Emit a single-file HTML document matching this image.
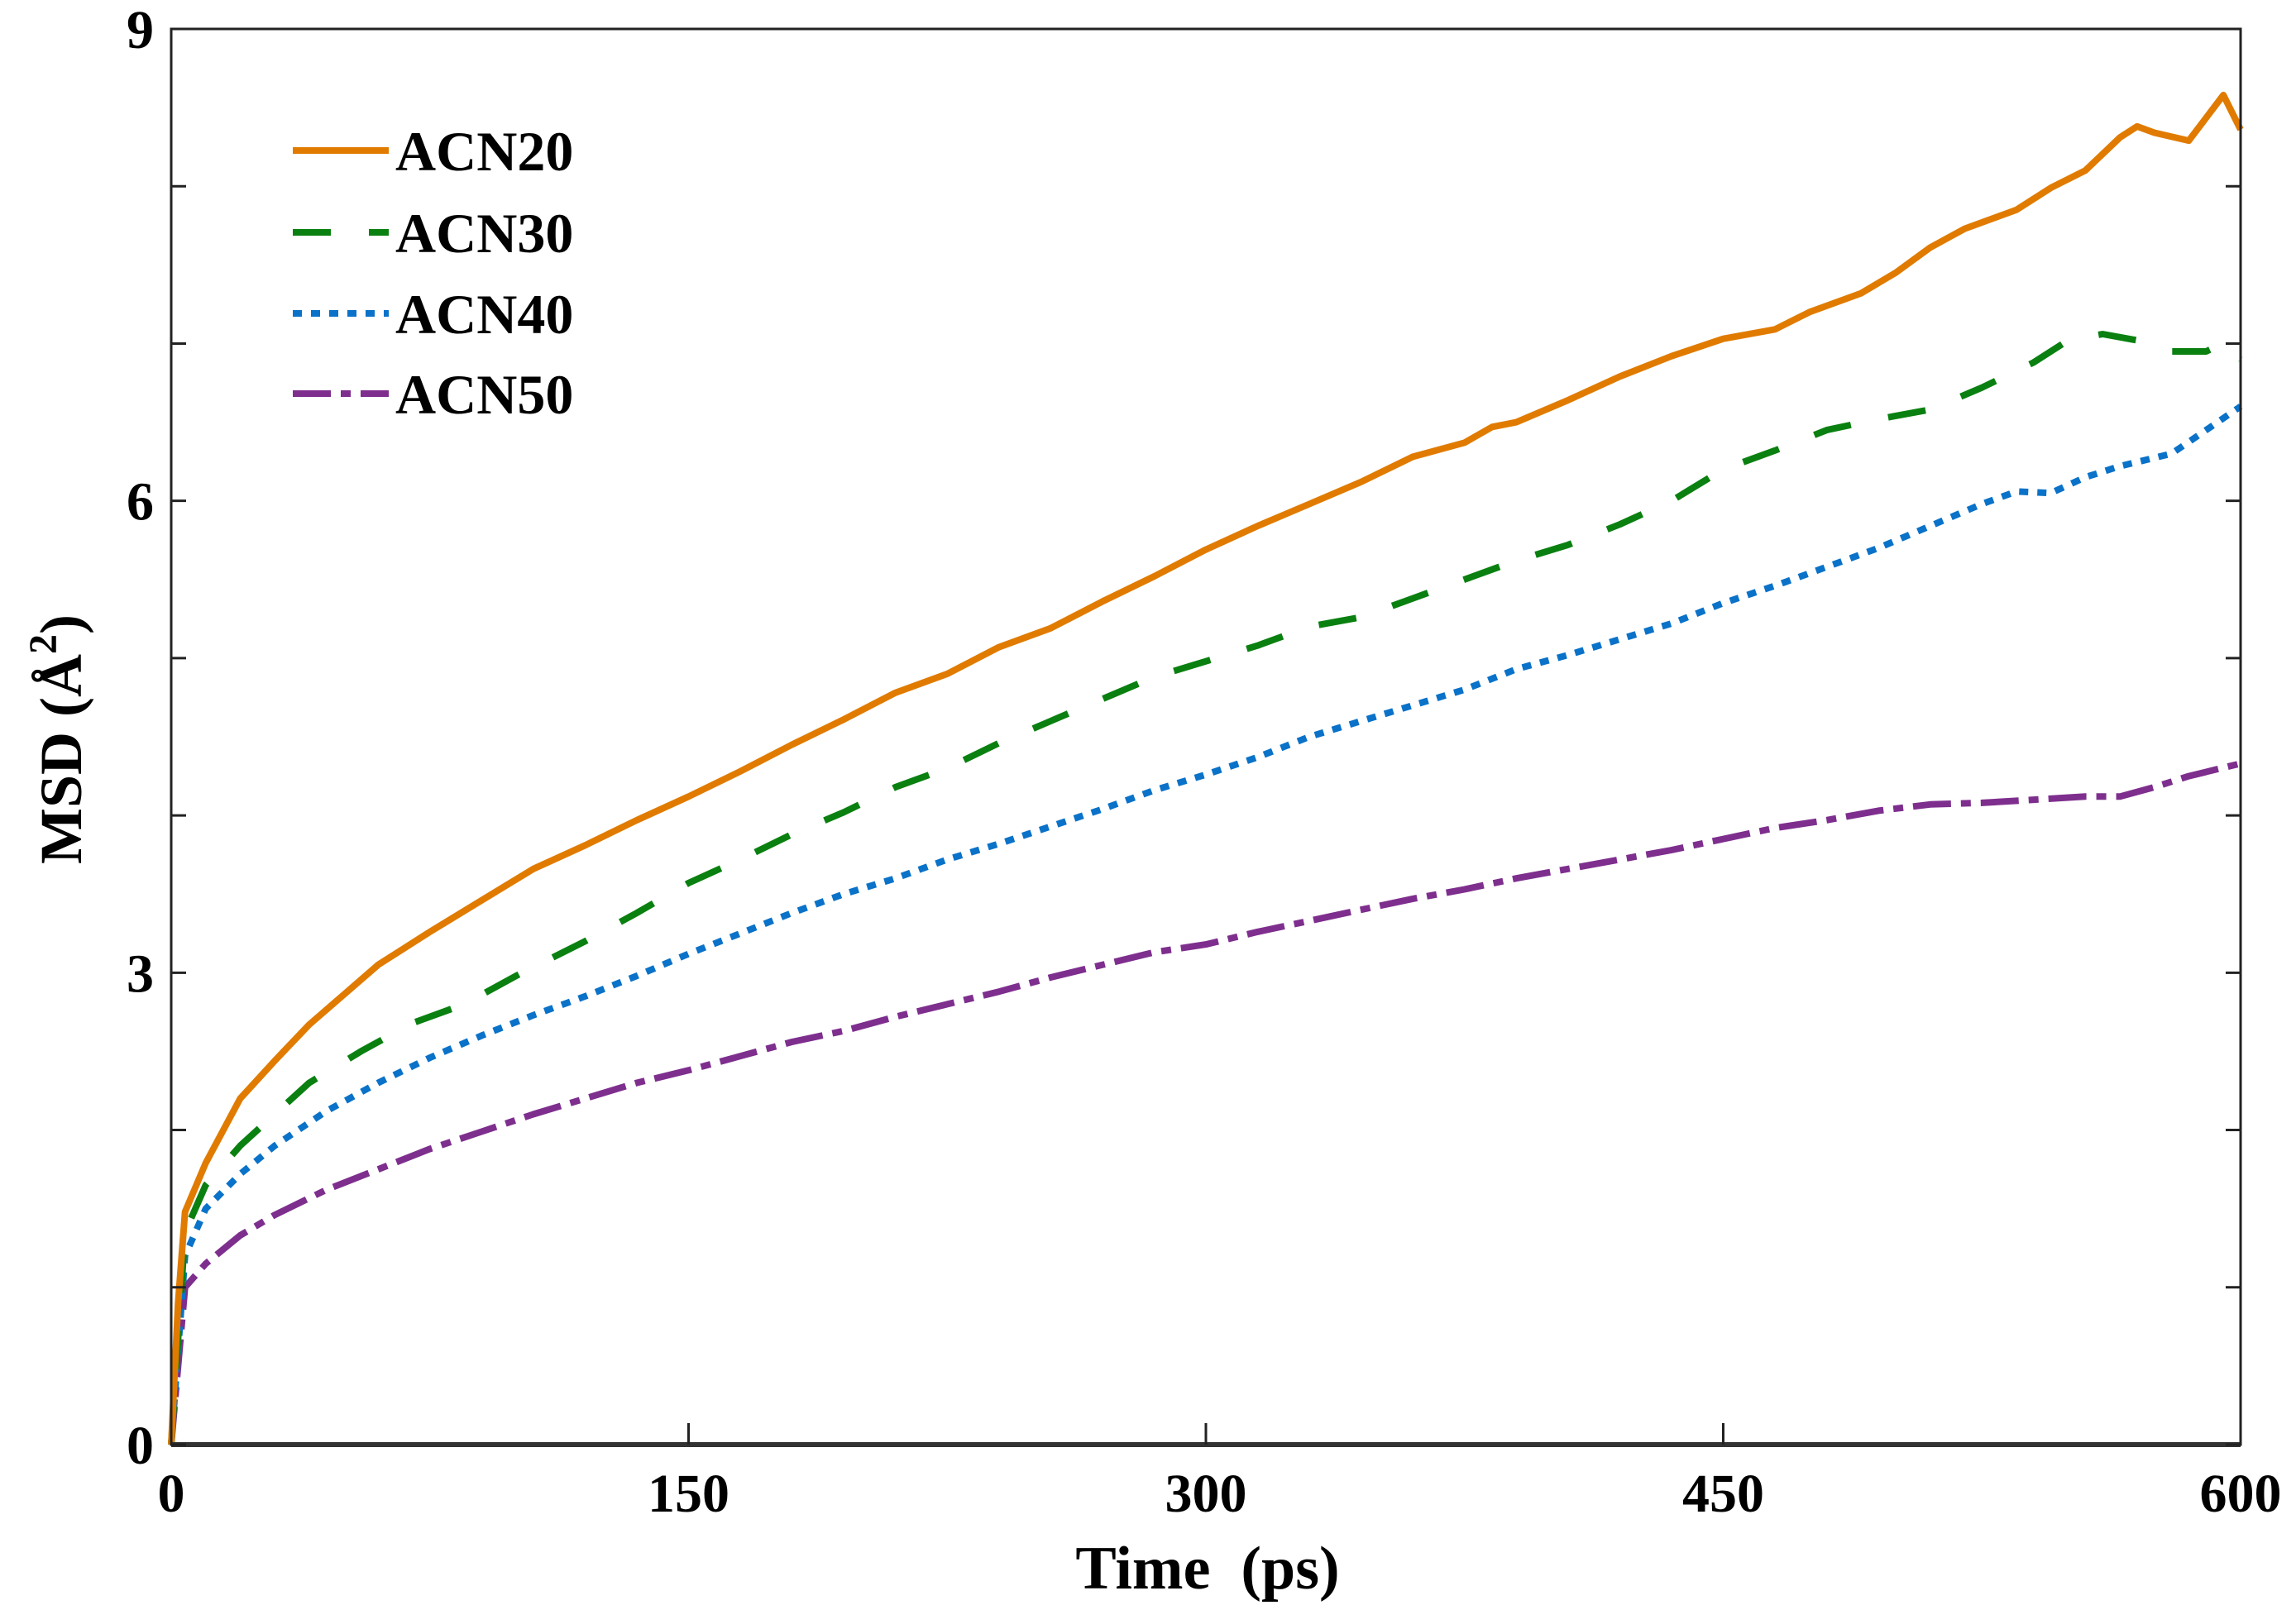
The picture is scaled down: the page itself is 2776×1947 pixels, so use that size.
<!DOCTYPE html>
<html><head><meta charset="utf-8"><style>
html,body{margin:0;padding:0;background:#fff}
svg{display:block}
text{font-family:"Liberation Serif",serif;font-weight:bold;fill:#000}
</style></head><body>
<svg id="chart" width="2776" height="1947" viewBox="0 0 2776 1947" xmlns="http://www.w3.org/2000/svg">
<g id="series"></g>
<g id="axes"></g>
<g id="legend"></g>
<text x="1460" y="1921" font-size="74" text-anchor="middle">Time&#160;&#160;(ps)</text>
<text x="0" y="0" font-size="72" text-anchor="middle" transform="translate(98,894) rotate(-90)">MSD (Å<tspan font-size="48" dy="-30">2</tspan><tspan dy="30">)</tspan></text>
</svg>
<script>
const xTicks = [0,150,300,450,600];
const yTicks = [0,3,6,9];
const yMinorTicks = [1,2,4,5,7,8];
const seriesNames = ["ACN20","ACN30","ACN40","ACN50"];
const t20 = [0,2,4,10,20,30,40,50,60,75,90,105,120,135,150,165,180,195,210,225,240,255,270,285,300,315,330,345,360,375,383,390,405,420,435,450,465,475,490,500,510,520,535,545,555,565,570,575,585,595,600];
const v20 = [0,0.9,1.48,1.79,2.2,2.44,2.67,2.86,3.05,3.26,3.46,3.66,3.81,3.97,4.12,4.28,4.45,4.61,4.78,4.9,5.07,5.19,5.36,5.52,5.69,5.84,5.98,6.12,6.28,6.37,6.47,6.5,6.64,6.79,6.92,7.03,7.09,7.2,7.32,7.45,7.61,7.73,7.85,7.99,8.1,8.31,8.38,8.34,8.29,8.58,8.36];
const t30 = [0,4,10,20,30,40,55,70,85,100,120,135,150,165,180,195,210,225,240,255,270,285,300,315,330,345,360,375,390,405,420,435,450,465,480,495,510,525,540,550,560,570,580,590,595,600];
const v30 = [0,1.35,1.65,1.9,2.1,2.3,2.5,2.68,2.8,2.98,3.2,3.38,3.57,3.72,3.88,4.02,4.18,4.3,4.46,4.6,4.74,4.88,4.98,5.08,5.2,5.26,5.38,5.5,5.62,5.72,5.85,6.0,6.2,6.32,6.45,6.52,6.58,6.72,6.88,7.02,7.06,7.02,6.95,6.95,7.0,6.9];
const t40 = [0,4,10,20,30,45,60,75,90,105,120,135,150,165,180,195,210,225,240,255,270,285,300,315,330,345,360,375,390,405,420,435,450,465,480,495,510,525,535,545,555,565,580,590,600];
const v40 = [0,1.2,1.5,1.72,1.9,2.12,2.3,2.46,2.6,2.73,2.85,2.98,3.12,3.25,3.38,3.5,3.6,3.72,3.82,3.93,4.04,4.16,4.26,4.37,4.5,4.6,4.7,4.8,4.93,5.02,5.12,5.22,5.35,5.46,5.58,5.7,5.84,5.98,6.06,6.05,6.15,6.22,6.3,6.45,6.6];
const t50 = [0,4,10,20,30,45,60,75,90,105,120,135,150,165,180,195,210,225,240,255,270,285,300,315,330,345,360,375,390,405,420,435,450,465,480,495,510,525,540,555,565,575,585,600];
const v50 = [0,1.0,1.15,1.33,1.46,1.62,1.75,1.88,1.99,2.1,2.2,2.3,2.38,2.47,2.56,2.63,2.72,2.8,2.88,2.97,3.05,3.13,3.18,3.26,3.33,3.4,3.47,3.53,3.6,3.66,3.72,3.78,3.85,3.92,3.97,4.03,4.07,4.08,4.1,4.12,4.12,4.18,4.25,4.33];

const L=207,R=2709,T=35,B=1747;
const xS=t=>L+(t-0)/(600-0)*(R-L);
const yS=v=>B-(v-0)/(9-0)*(B-T);
const NS="http://www.w3.org/2000/svg";
function mk(tag,attrs,parent){const e=document.createElementNS(NS,tag);for(const k in attrs)e.setAttribute(k,attrs[k]);parent.appendChild(e);return e;}
const styles=[
 {c:"#E07B00",d:""},
 {c:"#0A8010",d:"46 46"},
 {c:"#0A72C8",d:"11 11"},
 {c:"#7E2F8E",d:"46 12 12 12"}];
const ts=[t20,t30,t40,t50], vs=[v20,v30,v40,v50];
const sg=document.getElementById('series');
for(let s=3;s>=0;s--){
  const pts=ts[s].map((t,i)=>xS(t).toFixed(1)+","+yS(vs[s][i]).toFixed(1)).join(" ");
  const p=mk('polyline',{points:pts,fill:"none",stroke:styles[s].c,"stroke-width":8,"stroke-linejoin":"round"},sg);
  if(styles[s].d)p.setAttribute('stroke-dasharray',styles[s].d);
  
  
}
const ag=document.getElementById('axes');
const fr=mk('rect',{x:L,y:T,width:R-L,height:B-T,fill:"none",stroke:"#222","stroke-width":3},ag);


const bx=mk('line',{x1:L,y1:B,x2:R,y2:B,stroke:"#333","stroke-width":6},ag);


xTicks.forEach(t=>{
  const x=xS(t);
  const tk=mk('line',{x1:x,y1:B,x2:x,y2:B-26,stroke:"#222","stroke-width":3},ag);
  
  
  const lb=mk('text',{x:x,y:B+81,"font-size":66,"text-anchor":"middle"},ag);
  lb.textContent=t;
  
  
});
yTicks.concat(yMinorTicks).forEach(v=>{
  const y=yS(v);
  [[L,L+18],[R,R-18]].forEach(([a,b])=>{
    const tk=mk('line',{x1:a,y1:y,x2:b,y2:y,stroke:"#222","stroke-width":3},ag);
    
    
  });
});
yTicks.forEach(v=>{
  const lb=mk('text',{x:186,y:yS(v)+23,"font-size":66,"text-anchor":"end"},ag);
  lb.textContent=v;
  
  
});
const lg=document.getElementById('legend');
const ly=[182,281,379,476];
seriesNames.forEach((n,i)=>{
  const g=mk('g',{},lg);
  
  
  const ln=mk('line',{x1:354,y1:ly[i],x2:470,y2:ly[i],stroke:styles[i].c,"stroke-width":8},g);
  if(styles[i].d)ln.setAttribute('stroke-dasharray',styles[i].d);
  
  
  const tx=mk('text',{x:478,y:ly[i]+24,"font-size":68},g);
  tx.textContent=n;
  
  
});
</script>
</body></html>
